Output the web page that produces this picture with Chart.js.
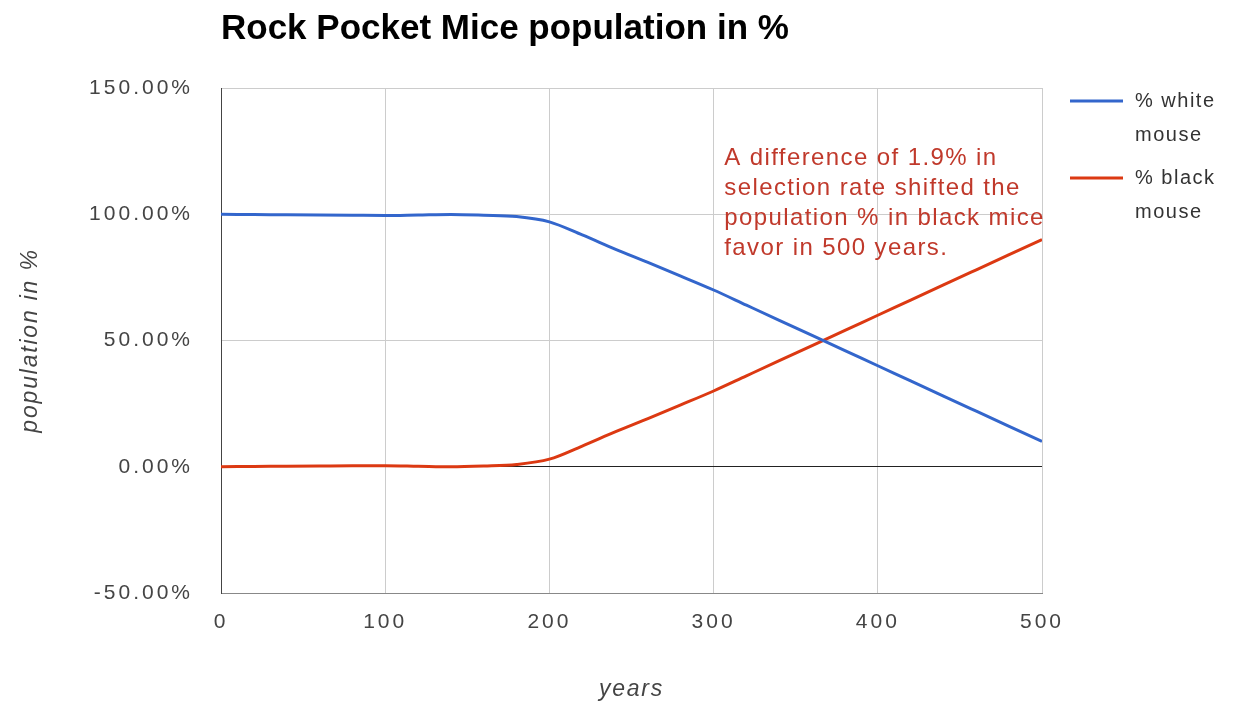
<!DOCTYPE html>
<html>
<head>
<meta charset="utf-8">
<title>Rock Pocket Mice population in %</title>
<script src="https://cdn.jsdelivr.net/npm/chart.js@4"></script>
<style>
  html, body { margin: 0; padding: 0; background: #fff; }
  #wrap { width: 1239px; height: 707px; }
</style>
</head>
<body>
<div id="wrap"><canvas id="mice"></canvas></div>
<script>
// years on the x axis
const years = [0, 20, 40, 60, 80, 100, 120, 140, 160, 180, 200, 220, 240, 260, 280, 300, 320, 340, 360, 380, 400, 420, 440, 460, 480, 500];
// % of the population per colour
const whiteMouse = [100, 99.9, 99.8, 99.7, 99.6, 99.5, 99.7, 99.9, 99.6, 99.1, 97, 91.8, 86.2, 80.9, 75.5, 70, 64, 58, 52, 46, 40, 34, 28, 22, 16, 10];
const blackMouse = [0, 0.1, 0.2, 0.3, 0.4, 0.4, 0.2, 0, 0.3, 0.9, 3, 8.2, 13.8, 19.1, 24.5, 30, 36, 42, 48, 54, 60, 66, 72, 78, 84, 90];

const seriesNames = ['% white mouse', '% black mouse'];
const seriesColors = ['#3366cc', '#dc3912'];

const chartTitle = 'Rock Pocket Mice population in %';
const xTitle = 'years';
const yTitle = 'population in %';
const noteLines = [
  'A difference of 1.9% in',
  'selection rate shifted the',
  'population % in black mice',
  'favor in 500 years.'
];

const FONT = '"Liberation Sans", Arial, sans-serif';

// title, axis titles, annotation and the two-line legend
const extras = {
  id: 'extras',
  beforeDraw(chart) {
    // tick labels are drawn with wide spacing
    chart.ctx.letterSpacing = '3px';
  },
  afterDraw(chart) {
    const ctx = chart.ctx;
    const area = chart.chartArea;
    ctx.save();
    ctx.letterSpacing = '0px';

    // title
    ctx.fillStyle = '#000';
    ctx.font = 'bold 35px ' + FONT;
    ctx.textAlign = 'left';
    ctx.textBaseline = 'middle';
    ctx.fillText(chartTitle, area.left, 29);

    // axis titles
    ctx.fillStyle = '#444';
    ctx.font = 'italic 23px ' + FONT;
    ctx.letterSpacing = '1.8px';
    ctx.textAlign = 'center';
    ctx.fillText(xTitle, (area.left + area.right) / 2, 690);
    ctx.save();
    ctx.translate(31, (area.top + area.bottom) / 2);
    ctx.rotate(-Math.PI / 2);
    ctx.fillText(yTitle, 0, 0);
    ctx.restore();

    // note in red
    const xs = chart.scales.x, ys = chart.scales.y;
    ctx.textAlign = 'left';
    ctx.font = '24px ' + FONT;
    ctx.fillStyle = '#c0392b';
    ctx.letterSpacing = '1.4px';
    const nx = xs.getPixelForValue(306.5);
    const ny = ys.getPixelForValue(122.3);
    noteLines.forEach((line, i) => ctx.fillText(line, nx, ny + i * 30));

    // legend
    ctx.font = '20px ' + FONT;
    ctx.letterSpacing = '1.5px';
    chart.data.datasets.forEach((ds, i) => {
      const y = 101 + i * 77;
      ctx.strokeStyle = ds.borderColor;
      ctx.lineWidth = 3;
      ctx.beginPath();
      ctx.moveTo(1070, y);
      ctx.lineTo(1123, y);
      ctx.stroke();
      const words = ds.label.split(' ');
      ctx.fillStyle = '#333';
      ctx.fillText(words.slice(0, 2).join(' '), 1135, y);
      ctx.fillText(words.slice(2).join(' '), 1135, y + 34);
    });
    ctx.restore();
  }
};

new Chart(document.getElementById('mice'), {
  type: 'line',
  data: {
    labels: years,
    datasets: [
      {
        label: seriesNames[0],
        data: years.map((y, i) => ({ x: y, y: whiteMouse[i] })),
        borderColor: seriesColors[0],
        backgroundColor: seriesColors[0],
        borderWidth: 3,
        pointRadius: 0,
        cubicInterpolationMode: 'monotone'
      },
      {
        label: seriesNames[1],
        data: years.map((y, i) => ({ x: y, y: blackMouse[i] })),
        borderColor: seriesColors[1],
        backgroundColor: seriesColors[1],
        borderWidth: 3,
        pointRadius: 0,
        cubicInterpolationMode: 'monotone'
      }
    ]
  },
  options: {
    responsive: true,
    maintainAspectRatio: false,
    animation: false,
    layout: { padding: { left: 0, top: 88, right: 197, bottom: 0 } },
    plugins: {
      legend: { display: false },
      title: { display: false },
      tooltip: { enabled: false }
    },
    scales: {
      x: {
        type: 'linear',
        min: 0,
        max: 500,
        ticks: {
          stepSize: 100,
          padding: 17,
          color: '#444',
          font: { family: FONT, size: 21 }
        },
        grid: { color: '#ccc', drawTicks: false },
        border: { color: '#888' },
        afterFit(scale) { scale.height = 114; }
      },
      y: {
        min: -50,
        max: 150,
        ticks: {
          stepSize: 50,
          padding: 28,
          color: '#444',
          font: { family: FONT, size: 21 },
          callback: v => v.toFixed(2) + '%'
        },
        grid: {
          drawTicks: false,
          color: c => (c.tick && c.tick.value === 0 ? '#222' : '#ccc')
        },
        border: { color: '#444' },
        afterFit(scale) { scale.width = 221; }
      }
    }
  },
  plugins: [extras]
});
</script>
</body>
</html>
